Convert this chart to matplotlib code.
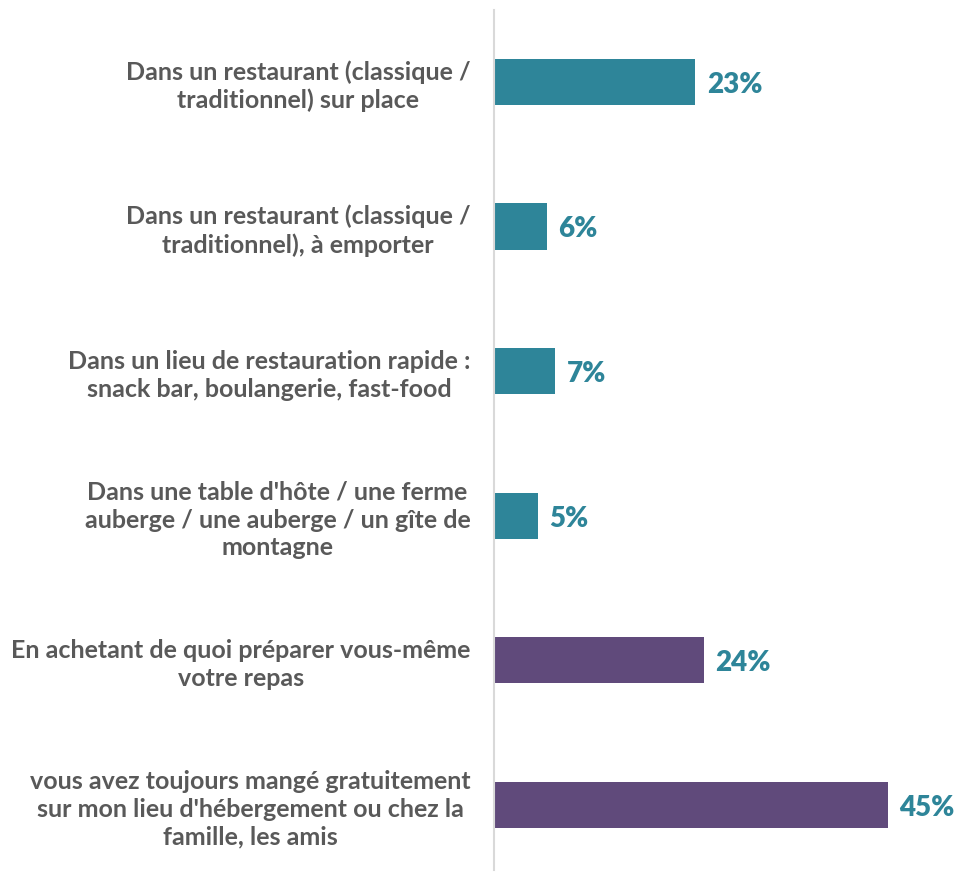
import matplotlib.pyplot as plt

categories = [
    "Dans un restaurant (classique /\ntraditionnel) sur place",
    "Dans un restaurant (classique /\ntraditionnel), à emporter",
    "Dans un lieu de restauration rapide :\nsnack bar, boulangerie, fast-food",
    "Dans une table d'hôte / une ferme\nauberge / une auberge / un gîte de\nmontagne",
    "En achetant de quoi préparer vous-même\nvotre repas",
    "vous avez toujours mangé gratuitement\nsur mon lieu d'hébergement ou chez la\nfamille, les amis",
]
values = [23, 6, 7, 5, 24, 45]
colors = ["#2E8599", "#2E8599", "#2E8599", "#2E8599", "#604A7B", "#604A7B"]

plt.rcParams["font.family"] = ["Lato", "DejaVu Sans"]

fig = plt.figure(figsize=(9.55, 8.73), dpi=100)
ax = fig.add_axes([494 / 955, 3 / 873, 455 / 955, 860 / 873])

pos = list(range(len(values)))
ax.barh(pos, values, height=0.32, color=colors)
for p, v in zip(pos, values):
    ax.text(v + 1.3, p + 0.02, f"{v}%", va="center", ha="left", fontsize=20,
            fontweight="heavy", color="#2E8599")

ax.set_xlim(0, 52)
ax.set_ylim(5.45, -0.497)
ax.set_xticks([])
ax.set_yticks(pos)
ax.set_yticklabels(categories, fontsize=18, fontweight="bold", color="#595959",
                   multialignment="center", linespacing=1.25)
ax.tick_params(axis="y", length=0, pad=17)
for s in ["top", "right", "bottom"]:
    ax.spines[s].set_visible(False)
ax.spines["left"].set_color("#D9D9D9")
ax.spines["left"].set_linewidth(1.5)

fig.savefig("out.png", dpi=100)
